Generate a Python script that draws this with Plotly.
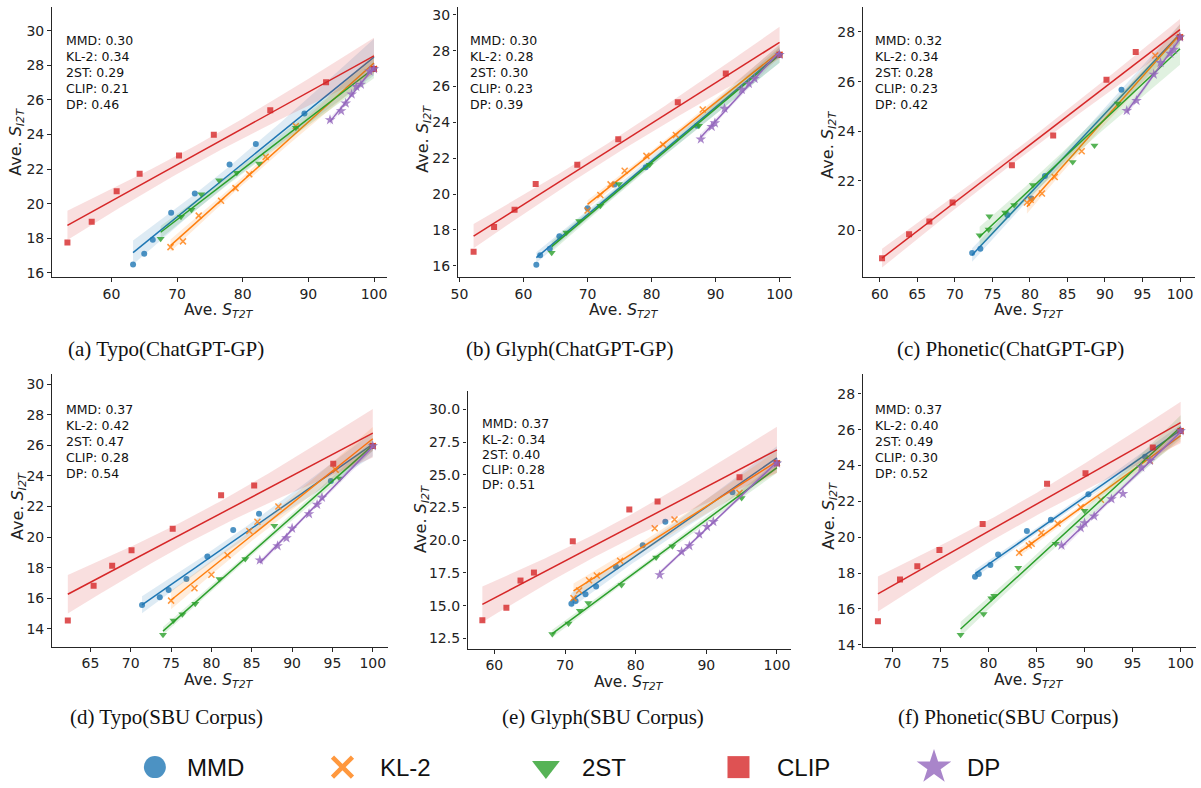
import numpy as np
import plotly.graph_objects as go

W, H = 1201, 788

METHODS = ["MMD", "KL-2", "2ST", "CLIP", "DP"]
COLORS = ["#1f77b4", "#ff7f0e", "#2ca02c", "#d62728", "#9467bd"]
SYMBOLS = ["circle", "x-thin", "triangle-down", "square", "star"]

CAPTIONS = ["(a) Typo(ChatGPT-GP)", "(b) Glyph(ChatGPT-GP)", "(c) Phonetic(ChatGPT-GP)",
            "(d) Typo(SBU Corpus)", "(e) Glyph(SBU Corpus)", "(f) Phonetic(SBU Corpus)"]

# ---------------- (a) Typo(ChatGPT-GP) ----------------
A_MMD_X = [63.3, 65.0, 66.3, 69.1, 72.7, 78.0, 82.0, 89.4, 100.0]
A_MMD_Y = [16.48, 17.11, 17.91, 19.48, 20.59, 22.27, 23.46, 25.22, 27.8]
A_KL_X = [69.0, 70.9, 73.3, 76.7, 78.9, 81.0, 83.5, 88.1, 100.0]
A_KL_Y = [17.49, 17.82, 19.31, 20.17, 20.90, 21.70, 22.71, 24.49, 27.8]
A_2ST_X = [67.5, 70.6, 72.2, 73.7, 76.4, 79.1, 82.5, 88.1, 100.0]
A_2ST_Y = [17.97, 19.25, 19.65, 20.55, 21.35, 21.79, 22.33, 24.40, 27.8]
A_CLIP_X = [53.3, 57.0, 60.8, 64.3, 70.3, 75.6, 84.2, 92.7, 100.0]
A_CLIP_Y = [17.76, 18.96, 20.72, 21.74, 22.79, 23.99, 25.41, 27.03, 27.8]
A_DP_X = [93.3, 95.0, 95.7, 96.6, 97.3, 98.0, 99.3, 100.0]
A_DP_Y = [24.85, 25.37, 25.81, 26.33, 26.77, 26.90, 27.67, 27.8]
A_SCORES = [0.30, 0.34, 0.29, 0.21, 0.46]

# ---------------- (b) Glyph(ChatGPT-GP) ----------------
B_MMD_X = [62.0, 62.6, 64.1, 65.6, 70.0, 74.2, 79.1, 87.1, 100.0]
B_MMD_Y = [16.06, 16.59, 16.94, 17.64, 19.21, 20.53, 21.49, 23.81, 27.78]
B_KL_X = [70.0, 72.0, 73.6, 75.8, 79.2, 81.8, 83.8, 88.0, 100.0]
B_KL_Y = [19.08, 19.95, 20.54, 21.30, 22.13, 22.76, 23.30, 24.72, 27.78]
B_2ST_X = [64.4, 66.7, 68.7, 72.0, 74.9, 79.7, 87.4, 100.0]
B_2ST_Y = [16.72, 17.85, 18.49, 19.34, 20.56, 21.63, 23.81, 27.78]
B_CLIP_X = [52.2, 55.4, 58.6, 61.9, 68.4, 74.8, 84.1, 91.6, 100.0]
B_CLIP_Y = [16.78, 18.16, 19.12, 20.56, 21.63, 23.06, 25.12, 26.73, 27.78]
B_DP_X = [87.7, 89.4, 89.9, 91.4, 94.1, 95.2, 96.1, 100.0]
B_DP_Y = [23.06, 23.76, 23.96, 24.77, 25.83, 26.16, 26.44, 27.78]
B_SCORES = [0.30, 0.28, 0.30, 0.23, 0.39]

# ---------------- (c) Phonetic(ChatGPT-GP) ----------------
C_MMD_X = [72.3, 73.4, 77.0, 80.2, 82.0, 92.2, 100.0]
C_MMD_Y = [19.09, 19.27, 20.63, 21.29, 22.20, 25.67, 27.79]
C_KL_X = [79.6, 80.1, 81.6, 83.3, 86.9, 96.7, 100.0]
C_KL_Y = [21.13, 21.24, 21.49, 22.16, 23.19, 27.05, 27.79]
C_2ST_X = [73.3, 74.6, 74.5, 76.7, 77.9, 80.4, 85.7, 88.6, 91.7, 100.0]
C_2ST_Y = [19.81, 20.57, 20.04, 20.73, 21.03, 21.83, 22.76, 23.43, 25.12, 27.79]
C_CLIP_X = [60.3, 63.9, 66.6, 69.7, 77.6, 83.1, 90.2, 94.1, 100.0]
C_CLIP_Y = [18.88, 19.85, 20.36, 21.13, 22.63, 23.83, 26.07, 27.19, 27.79]
C_DP_X = [92.9, 94.2, 96.5, 97.4, 98.7, 99.2, 100.0]
C_DP_Y = [24.83, 25.23, 26.29, 26.76, 27.13, 27.29, 27.79]
C_SCORES = [0.32, 0.34, 0.28, 0.23, 0.42]

# ---------------- (d) Typo(SBU Corpus) ----------------
D_MMD_X = [71.4, 73.6, 74.7, 76.9, 79.5, 82.7, 85.9, 94.8, 100.0]
D_MMD_Y = [15.56, 16.06, 16.54, 17.25, 18.73, 20.46, 21.52, 23.67, 25.97]
D_KL_X = [75.0, 77.9, 80.0, 82.0, 84.7, 85.7, 88.3, 95.4, 100.0]
D_KL_Y = [15.84, 16.65, 17.53, 18.81, 20.40, 21.00, 22.00, 24.41, 25.97]
D_2ST_X = [74.0, 75.3, 76.4, 78.0, 81.0, 84.2, 87.8, 95.9, 100.0]
D_2ST_Y = [13.61, 14.54, 14.95, 15.63, 17.25, 18.57, 20.74, 23.84, 25.97]
D_CLIP_X = [62.2, 65.4, 67.7, 70.1, 75.2, 81.2, 85.3, 95.1, 100.0]
D_CLIP_Y = [14.54, 16.82, 18.12, 19.14, 20.55, 22.74, 23.37, 24.80, 25.97]
D_DP_X = [86.0, 88.2, 89.3, 90.0, 92.1, 93.1, 93.7, 100.0]
D_DP_Y = [18.49, 19.42, 19.94, 20.57, 21.52, 22.13, 22.59, 25.97]
D_SCORES = [0.37, 0.42, 0.47, 0.28, 0.54]

# ---------------- (e) Glyph(SBU Corpus) ----------------
E_MMD_X = [70.9, 71.5, 72.9, 74.4, 77.2, 81.0, 84.2, 93.7, 100.0]
E_MMD_Y = [15.15, 15.35, 15.88, 16.46, 17.98, 19.62, 21.41, 23.66, 25.88]
E_KL_X = [71.2, 72.0, 73.4, 74.5, 77.8, 82.7, 85.5, 94.7, 100.0]
E_KL_Y = [15.58, 16.16, 16.94, 17.30, 18.43, 20.91, 21.59, 23.61, 25.88]
E_2ST_X = [68.2, 70.5, 72.1, 73.3, 78.0, 82.9, 85.2, 95.0, 100.0]
E_2ST_Y = [12.83, 13.64, 14.62, 15.20, 16.59, 18.69, 19.55, 23.23, 25.88]
E_CLIP_X = [58.3, 61.7, 63.7, 65.6, 71.1, 79.1, 83.1, 94.7, 100.0]
E_CLIP_Y = [13.89, 14.85, 16.92, 17.53, 19.92, 22.35, 22.95, 24.82, 25.88]
E_DP_X = [83.4, 86.5, 87.6, 89.0, 90.1, 91.0, 100.0]
E_DP_Y = [17.35, 19.12, 19.57, 20.45, 21.04, 21.41, 25.88]
E_SCORES = [0.37, 0.34, 0.40, 0.28, 0.51]

# ---------------- (f) Phonetic(SBU Corpus) ----------------
F_MMD_X = [78.6, 79.0, 80.2, 81.0, 84.0, 86.5, 90.4, 96.3, 100.0]
F_MMD_Y = [17.79, 17.95, 18.45, 19.04, 20.35, 20.98, 22.40, 24.49, 25.93]
F_KL_X = [83.2, 84.2, 84.5, 85.5, 87.2, 89.6, 91.7, 96.8, 100.0]
F_KL_Y = [19.13, 19.54, 19.63, 20.24, 20.76, 21.67, 22.09, 24.27, 25.93]
F_2ST_X = [77.1, 79.5, 80.3, 80.6, 83.1, 87.0, 90.0, 100.0]
F_2ST_Y = [14.55, 15.72, 16.59, 16.73, 18.30, 19.63, 21.48, 25.93]
F_CLIP_X = [68.5, 70.8, 72.6, 74.9, 79.4, 86.1, 90.1, 97.1, 100.0]
F_CLIP_Y = [15.31, 17.64, 18.38, 19.28, 20.74, 22.98, 23.57, 25.01, 25.93]
F_DP_X = [87.6, 89.6, 90.0, 91.0, 92.8, 94.0, 95.9, 96.8, 100.0]
F_DP_Y = [19.54, 20.52, 20.80, 21.17, 22.13, 22.42, 23.90, 24.27, 25.93]
F_SCORES = [0.37, 0.40, 0.49, 0.30, 0.52]

PANEL_DATA = [
    ([A_MMD_X, A_KL_X, A_2ST_X, A_CLIP_X, A_DP_X], [A_MMD_Y, A_KL_Y, A_2ST_Y, A_CLIP_Y, A_DP_Y], A_SCORES),
    ([B_MMD_X, B_KL_X, B_2ST_X, B_CLIP_X, B_DP_X], [B_MMD_Y, B_KL_Y, B_2ST_Y, B_CLIP_Y, B_DP_Y], B_SCORES),
    ([C_MMD_X, C_KL_X, C_2ST_X, C_CLIP_X, C_DP_X], [C_MMD_Y, C_KL_Y, C_2ST_Y, C_CLIP_Y, C_DP_Y], C_SCORES),
    ([D_MMD_X, D_KL_X, D_2ST_X, D_CLIP_X, D_DP_X], [D_MMD_Y, D_KL_Y, D_2ST_Y, D_CLIP_Y, D_DP_Y], D_SCORES),
    ([E_MMD_X, E_KL_X, E_2ST_X, E_CLIP_X, E_DP_X], [E_MMD_Y, E_KL_Y, E_2ST_Y, E_CLIP_Y, E_DP_Y], E_SCORES),
    ([F_MMD_X, F_KL_X, F_2ST_X, F_CLIP_X, F_DP_X], [F_MMD_Y, F_KL_Y, F_2ST_Y, F_CLIP_Y, F_DP_Y], F_SCORES),
]

# ---------------- layout (pixels) ----------------
PANELS = [
    dict(px=(45, 383, 6.7, 279.3), xr=(50.9, 102.0), yr=(15.75, 31.4), xd=10, yd=2, yf=None,
         cap=(160, 352), xt=(214, 313), yt=(10, 143), sc=(57, 41, 16)),
    dict(px=(454, 790, 6.7, 279.3), xr=(49.7, 101.8), yr=(15.36, 30.46), xd=10, yd=2, yf=None,
         cap=(567, 352), xt=(622, 313), yt=(420, 140), sc=(464, 41, 16)),
    dict(px=(862, 1197, 6.7, 279.3), xr=(57.7, 102.0), yr=(18.12, 29.02), xd=5, yd=2, yf=None,
         cap=(1011, 352), xt=(1030, 313), yt=(828, 146), sc=(873, 41, 16)),
    dict(px=(45, 384, 377, 652), xr=(60.2, 101.9), yr=(12.8, 30.67), xd=5, yd=2, yf=None,
         cap=(161, 722), xt=(214, 686), yt=(11, 510), sc=(57, 413, 16)),
    dict(px=(464, 790, 394, 654), xr=(56.2, 102.0), yr=(11.69, 31.4), xd=10, yd=2.5, yf=".1f",
         cap=(601, 722), xt=(627, 688), yt=(417, 523), sc=(477, 427, 15.4)),
    dict(px=(862, 1198, 377, 652), xr=(66.9, 101.6), yr=(13.87, 29.1), xd=5, yd=2, yf=None,
         cap=(1009, 722), xt=(1030, 686), yt=(828, 520), sc=(873, 413, 16)),
]

LEGEND_MARKER_PX = [149, 338, 543, 737, 934]
LEGEND_TEXT_PX = [179, 374, 577, 774, 965]
LEGEND_Y_PX = 773
LEGEND_SIZES = [22, 20, 24, 22, 26]

T_CRIT = {3: 3.182, 4: 2.776, 5: 2.571, 6: 2.447, 7: 2.365, 8: 2.306, 9: 2.262, 10: 2.228}

AXC = "#262626"
SANS = "DejaVu Sans"


def px2fx(p):
    return p / W


def px2fy(p):
    return 1 - p / H


def rgba(hexc, a):
    h = hexc.lstrip("#")
    return "rgba(%d,%d,%d,%.3f)" % (int(h[0:2], 16), int(h[2:4], 16), int(h[4:6], 16), a)


def fit_band(x, y, n=100):
    x = np.asarray(x, float)
    y = np.asarray(y, float)
    b, a = np.polyfit(x, y, 1)
    xs = np.linspace(x.min(), x.max(), n)
    yh = a + b * xs
    res = y - (a + b * x)
    dof = len(x) - 2
    s = np.sqrt(np.sum(res ** 2) / dof)
    sxx = np.sum((x - x.mean()) ** 2)
    se = s * np.sqrt(1.0 / len(x) + (xs - x.mean()) ** 2 / sxx)
    t = T_CRIT.get(dof, 2.2)
    return xs, yh, yh - t * se, yh + t * se


fig = go.Figure()
annotations = []

for i, (panel, (xs_list, ys_list, scores)) in enumerate(zip(PANELS, PANEL_DATA)):
    k = i + 1
    xa = "x" if k == 1 else "x%d" % k
    ya = "y" if k == 1 else "y%d" % k
    for m, (xv, yv) in enumerate(zip(xs_list, ys_list)):
        col = COLORS[m]
        fx, fy, lo, hi = fit_band(xv, yv)
        fig.add_trace(go.Scatter(
            x=np.concatenate([fx, fx[::-1]]), y=np.concatenate([hi, lo[::-1]]),
            fill="toself", fillcolor=rgba(col, 0.15), line=dict(width=0),
            mode="lines", hoverinfo="skip", showlegend=False, xaxis=xa, yaxis=ya))
        mk = dict(symbol=SYMBOLS[m], color=col, size=6 if m != 4 else 8, opacity=0.8,
                  line=dict(width=0))
        if SYMBOLS[m] == "x-thin":
            mk = dict(symbol="x-thin", size=6, opacity=0.8, line=dict(width=1.5, color=col))
        if SYMBOLS[m] == "triangle-down":
            mk["size"] = 7
        fig.add_trace(go.Scatter(x=xv, y=yv, mode="markers", marker=mk,
                                 showlegend=False, xaxis=xa, yaxis=ya))
        fig.add_trace(go.Scatter(x=fx, y=fy, mode="lines", line=dict(color=col, width=1.5),
                                 showlegend=False, hoverinfo="skip", xaxis=xa, yaxis=ya))

    x0, x1, y0, y1 = panel["px"]
    axis_common = dict(showline=True, linecolor=AXC, linewidth=1.25, ticks="outside",
                       ticklen=3.5, tickwidth=1.1, tickcolor=AXC, showgrid=False,
                       zeroline=False, tickfont=dict(family=SANS, size=14, color="#222"))
    fig.layout["xaxis" if k == 1 else "xaxis%d" % k] = dict(
        domain=[px2fx(x0), px2fx(x1)], range=list(panel["xr"]), anchor=ya,
        tick0=0, dtick=panel["xd"], **axis_common)
    yax = dict(domain=[px2fy(y1), px2fy(y0)], range=list(panel["yr"]), anchor=xa,
               tick0=0, dtick=panel["yd"], **axis_common)
    if panel["yf"]:
        yax["tickformat"] = panel["yf"]
    fig.layout["yaxis" if k == 1 else "yaxis%d" % k] = yax

    # axis titles
    annotations.append(dict(x=px2fx(panel["xt"][0]), y=px2fy(panel["xt"][1]), xref="paper", yref="paper",
                            text="Ave. <i>S</i><sub><i>T2T</i></sub>", showarrow=False,
                            font=dict(family=SANS, size=15.5, color="#222"),
                            xanchor="center", yanchor="middle"))
    annotations.append(dict(x=px2fx(panel["yt"][0]), y=px2fy(panel["yt"][1]), xref="paper", yref="paper",
                            text="Ave. <i>S</i><sub><i>I2T</i></sub>", showarrow=False, textangle=-90,
                            font=dict(family=SANS, size=16, color="#222"),
                            xanchor="center", yanchor="middle"))
    # scores text
    sx, sy, sdy = panel["sc"]
    for m, name in enumerate(METHODS):
        annotations.append(dict(x=px2fx(sx), y=px2fy(sy + m * sdy), xref="paper", yref="paper",
                                text="%s: %.2f" % (name, scores[m]), showarrow=False,
                                font=dict(family=SANS, size=12.5, color="#111"),
                                xanchor="left", yanchor="middle"))
    # caption
    annotations.append(dict(x=px2fx(panel["cap"][0]), y=px2fy(panel["cap"][1]), xref="paper", yref="paper",
                            text=CAPTIONS[i], showarrow=False,
                            font=dict(family="Liberation Serif", size=21, color="#111"),
                            xanchor="center", yanchor="middle"))

# legend row (manual, big markers)
for m, name in enumerate(METHODS):
    mk = dict(symbol=SYMBOLS[m], color=COLORS[m], size=LEGEND_SIZES[m], opacity=0.8, line=dict(width=0))
    if SYMBOLS[m] == "x-thin":
        mk = dict(symbol="x-thin", size=LEGEND_SIZES[m], opacity=0.8, line=dict(width=4.5, color=COLORS[m]))
    fig.add_trace(go.Scatter(x=[LEGEND_MARKER_PX[m]], y=[LEGEND_Y_PX], mode="markers", marker=mk,
                             showlegend=False, hoverinfo="skip", xaxis="x7", yaxis="y7"))
    annotations.append(dict(x=px2fx(LEGEND_TEXT_PX[m]), y=px2fy(LEGEND_Y_PX), xref="paper", yref="paper",
                            text=name, showarrow=False,
                            font=dict(family="Liberation Sans", size=24, color="#111"),
                            xanchor="left", yanchor="middle"))

fig.layout["xaxis7"] = dict(domain=[0, 1], range=[0, W], visible=False, fixedrange=True)
fig.layout["yaxis7"] = dict(domain=[0, 1], range=[H, 0], visible=False, fixedrange=True, anchor="x7")

fig.update_layout(width=W, height=H, margin=dict(l=0, r=0, t=0, b=0), autosize=False,
                  paper_bgcolor="white", plot_bgcolor="rgba(0,0,0,0)",
                  showlegend=False, annotations=annotations)

fig.write_html("out.html", config={"displayModeBar": False},
               post_script="document.body.style.margin='0';document.body.style.overflow='hidden';")
